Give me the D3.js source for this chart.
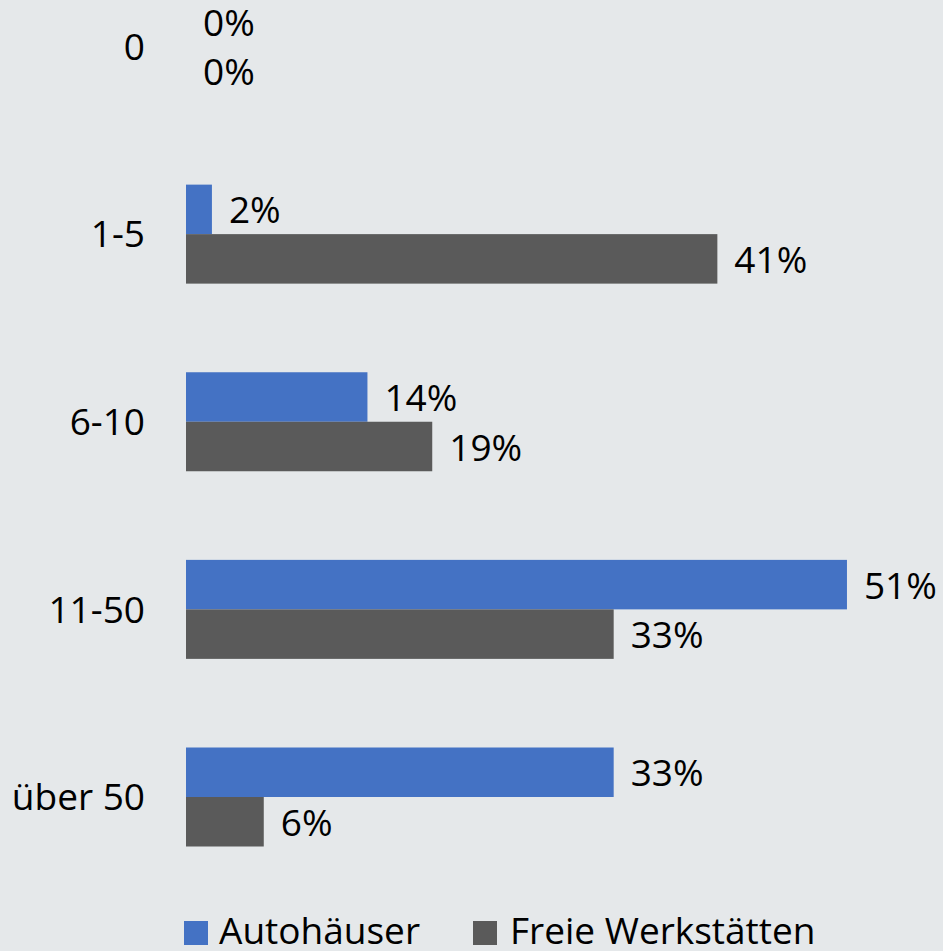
<!DOCTYPE html>
<html>
<head>
<meta charset="utf-8">
<script src="https://cdn.jsdelivr.net/npm/d3@7"></script>
<style>
  html, body { margin: 0; padding: 0; background: #e5e8ea; }
  svg { display: block; font-family: "Open Sans", sans-serif; }
</style>
</head>
<body>
<div id="bar_chart"></div>
<script>
// Mitarbeiter-Gruppen, Anteile in Prozent
const categories = ["0", "1-5", "6-10", "11-50", "über 50"];
const series = ["Autohäuser", "Freie Werkstätten"];
const autohaeuser = [0, 2, 14, 51, 33];
const freieWerkstaetten = [0, 41, 19, 33, 6];
const colors = ["#4472c4", "#5a5a5a"];

const width = 943,
    height = 951,
    fontSize = 37;

const svg = d3.select("#bar_chart")
    .append("svg")
    .attr("width", width)
    .attr("height", height)
    .attr("viewBox", [0, 0, width, height]);

const data = categories.map((c, i) => ({
    cat: c,
    values: [autohaeuser[i], freieWerkstaetten[i]]
}));

let x = d3.scaleLinear()
    .domain([0, 60])
    .range([186, 186 + 60 * 12.96]);

// group centres
let y = d3.scalePoint()
    .domain(categories)
    .range([46.5, 797]);

let yInner = d3.scaleBand()
    .domain(series)
    .range([-49.5, 49.5]);

// category labels
svg.append("g")
    .selectAll("text")
    .data(categories)
    .join("text")
    .attr("x", 145)
    .attr("y", d => y(d))
    .attr("dy", "0.36em")
    .attr("text-anchor", "end")
    .attr("font-size", fontSize)
    .attr("fill", "#000")
    .text(d => d);

const groups = svg.append("g")
    .selectAll("g")
    .data(data)
    .join("g")
    .attr("transform", d => `translate(0,${y(d.cat)})`);

groups.selectAll("rect")
    .data(d => d.values.map((v, i) => ({ s: series[i], v: v, i: i })))
    .join("rect")
    .attr("x", x(0))
    .attr("y", d => yInner(d.s))
    .attr("width", d => x(d.v) - x(0))
    .attr("height", yInner.bandwidth())
    .attr("fill", d => colors[d.i]);

groups.selectAll("text")
    .data(d => d.values.map((v, i) => ({ s: series[i], v: v, i: i })))
    .join("text")
    .attr("x", d => x(d.v) + 17)
    .attr("y", d => yInner(d.s) + yInner.bandwidth() / 2)
    .attr("dy", "0.38em")
    .attr("font-size", fontSize)
    .attr("fill", "#000")
    .text(d => d.v + "%");

// legend
const legendX = [184, 473];
const legend = svg.append("g")
    .selectAll("g")
    .data(series)
    .join("g")
    .attr("transform", (d, i) => `translate(${legendX[i]},921)`);

legend.append("rect")
    .attr("width", 24)
    .attr("height", 24)
    .attr("fill", (d, i) => colors[i]);

legend.append("text")
    .attr("x", (d, i) => i === 0 ? 35 : 37)
    .attr("y", 23)
    .attr("font-size", fontSize)
    .attr("fill", "#000")
    .text(d => d);
</script>
</body>
</html>
